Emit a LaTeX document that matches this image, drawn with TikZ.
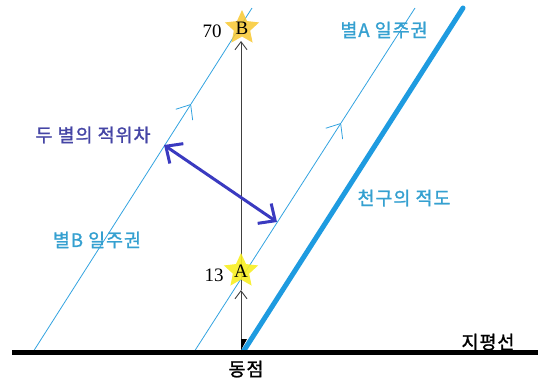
\documentclass[tikz,border=0pt]{standalone}
\usepackage{fontspec}
\setmainfont{Liberation Serif}
\newfontfamily\kr{Noto Sans CJK KR}[FakeBold=1.3, LetterSpace=5]
\usetikzlibrary{arrows.meta,shapes.geometric}
\definecolor{orbit}{HTML}{33A3E0}
\definecolor{eqc}{HTML}{1E9BE0}
\definecolor{diff}{HTML}{3A3AC0}
\definecolor{difftext}{HTML}{4545A5}
\definecolor{lbl}{HTML}{35A0D0}
\definecolor{starB}{HTML}{F8C830}
\definecolor{starA}{HTML}{F8EE20}
\begin{document}
\begin{tikzpicture}[x=1bp,y=-1bp,
  orbitline/.style={draw=orbit, line width=0.8bp},
  orbittip/.style={-{Straight Barb[length=12bp,width=20bp,line width=0.8bp]}},
  vline/.style={draw=black!75, line width=0.9bp},
  vtip/.style={-{Straight Barb[length=8bp,width=12bp,line width=0.9bp]}},
  starnode/.style={star, star points=5, star point ratio=2.1, minimum size=36bp, inner sep=0pt, draw=none},
  krlabel/.style={font=\kr\fontsize{18.5bp}{18.5bp}\selectfont, inner sep=0pt},
  numlabel/.style={font=\fontsize{19bp}{19bp}\selectfont, inner sep=0pt}]
\useasboundingbox (0,0) rectangle (538,381);
% coordinates
\coordinate (hL) at (12,352);
\coordinate (hR) at (538,352);
\coordinate (b0) at (33,352);
\coordinate (bm) at (191,104);
\coordinate (b1) at (252,8);
\coordinate (a0) at (194,352);
\coordinate (am) at (341,123);
\coordinate (a1) at (415,8);
\coordinate (e0) at (243,352);
\coordinate (e1) at (463,8);
\coordinate (east) at (241,352);
\coordinate (vA) at (241,290);
\coordinate (vB) at (241,41);
\coordinate (dL) at (164,145);
\coordinate (dR) at (277,222);
% orbits
\draw[orbitline, orbittip] (b0) -- (bm);
\draw[orbitline] (bm) -- (b1);
\draw[orbitline, orbittip] (a0) -- (am);
\draw[orbitline] (am) -- (a1);
% vertical
\draw[vline, vtip] (east) -- (vA);
\draw[vline, vtip] (vA) -- (vB);
\fill[black] (241,339) -- (247,339) -- (241,350) -- cycle;
% equator
\draw[eqc, line width=5bp, line cap=round] (e0) -- (e1);
% horizon
\draw[black, line width=5bp] (hL) -- (hR);
% stars
\node[starnode, fill=starB, opacity=0.85] (sB) at (242,28) {};
\node[numlabel] (tB) at (sB) {B};
\node[starnode, fill=starA, opacity=0.9] (sA) at (241,271) {};
\node[numlabel] (tA) at (sA) {A};
\node[numlabel] (n70) at (212,31) {70};
\node[numlabel] (n13) at (214,275) {13};
% difference arrow
\draw[diff, line width=3bp, {Straight Barb[length=13bp,width=24bp,line width=3bp]}-{Straight Barb[length=13bp,width=24bp,line width=3bp]}] (dL) -- (dR);
% labels
\node[krlabel, text=difftext] (l1) at (93,135) {두 별의 적위차};
\node[krlabel, text=lbl] (l2) at (97,240) {별B 일주권};
\node[krlabel, text=lbl] (l3) at (384,30) {별A 일주권};
\node[krlabel, text=lbl] (l4) at (404,198) {천구의 적도};
\node[krlabel, text=black] (l5) at (488,342) {지평선};
\node[krlabel, text=black] (l6) at (246,369) {동점};
\end{tikzpicture}
\end{document}
